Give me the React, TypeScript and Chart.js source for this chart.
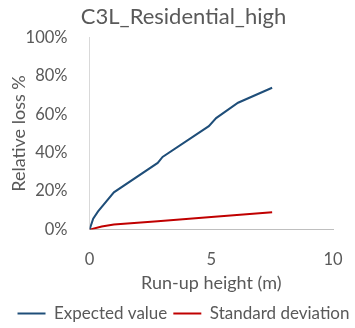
import React, { useEffect, useRef } from "react";
import { Chart, registerables } from "chart.js";

Chart.register(...registerables);

const expectedX = [0, 0.15, 0.35, 1.0, 2.8, 3.0, 4.9, 5.2, 6.1, 7.5];
const expectedY = [0, 5.7, 9.5, 19.4, 34.7, 37.8, 53.8, 58, 66, 73.8];
const stdX = [0, 0.5, 1.0, 2.8, 5.0, 7.5];
const stdY = [0, 1.6, 2.6, 4.3, 6.5, 9.0];
const seriesNames = ["Expected value", "Standard deviation"];
const chartTitle = "C3L_Residential_high";
const xTitle = "Run-up height (m)";
const yTitle = "Relative loss %";

const FONT = "Lato";
const GREY = "#595959";

export default function App() {
  const ref = useRef<HTMLCanvasElement | null>(null);
  useEffect(() => {
    if (!ref.current) return;
    const chart = new Chart(ref.current, {
      type: "line",
      data: {
        datasets: [
          {
            label: seriesNames[0],
            data: expectedX.map((x, i) => ({ x, y: expectedY[i] })),
            borderColor: "#1f4e79",
            backgroundColor: "#1f4e79",
            borderWidth: 2,
            pointRadius: 0,
            pointStyle: "line",
            tension: 0,
          },
          {
            label: seriesNames[1],
            data: stdX.map((x, i) => ({ x, y: stdY[i] })),
            borderColor: "#c00000",
            backgroundColor: "#c00000",
            borderWidth: 2,
            pointRadius: 0,
            pointStyle: "line",
            tension: 0,
          },
        ],
      },
      options: {
        animation: false,
        responsive: false,
        maintainAspectRatio: false,
        layout: { padding: { left: 6, right: -6, top: 4, bottom: -4 } },
        plugins: {
          title: {
            display: true,
            text: chartTitle,
            color: GREY,
            font: { family: FONT, size: 22, weight: "normal" },
            padding: { top: 0, bottom: 7 },
          },
          legend: {
            position: "bottom",
            labels: {
              color: GREY,
              font: { family: FONT, size: 17 },
              usePointStyle: true,
              pointStyleWidth: 28,
              boxHeight: 2,
              padding: 6,
            },
          },
          tooltip: { enabled: false },
        },
        scales: {
          x: {
            type: "linear",
            min: 0,
            max: 10,
            afterFit: (s: any) => {
              s.paddingRight = 22;
            },
            ticks: {
              stepSize: 5,
              color: GREY,
              font: { family: FONT, size: 16.5 },
              padding: 20,
            },
            grid: { display: false, drawTicks: false },
            border: { display: true, color: "#bfbfbf", width: 1 },
            title: {
              display: true,
              text: xTitle,
              color: GREY,
              font: { family: FONT, size: 18 },
              padding: { top: -17, bottom: 5 },
            },
          },
          y: {
            min: 0,
            max: 100,
            ticks: {
              stepSize: 20,
              color: GREY,
              font: { family: FONT, size: 16.5 },
              padding: 22,
              callback: (v: any) => v + "%",
            },
            grid: { display: false, drawTicks: false },
            border: { display: true, color: "#d9d9d9", width: 1 },
            title: {
              display: true,
              text: yTitle,
              color: GREY,
              font: { family: FONT, size: 18 },
              padding: { top: 2, bottom: -26 },
            },
          },
        },
      },
    });
    return () => chart.destroy();
  }, []);
  return (
    <div style={{ position: "fixed", left: 0, top: 0, width: 355, height: 328, background: "#fff" }}>
      <canvas ref={ref} width={355} height={328} style={{ width: 355, height: 328 }} />
    </div>
  );
}
